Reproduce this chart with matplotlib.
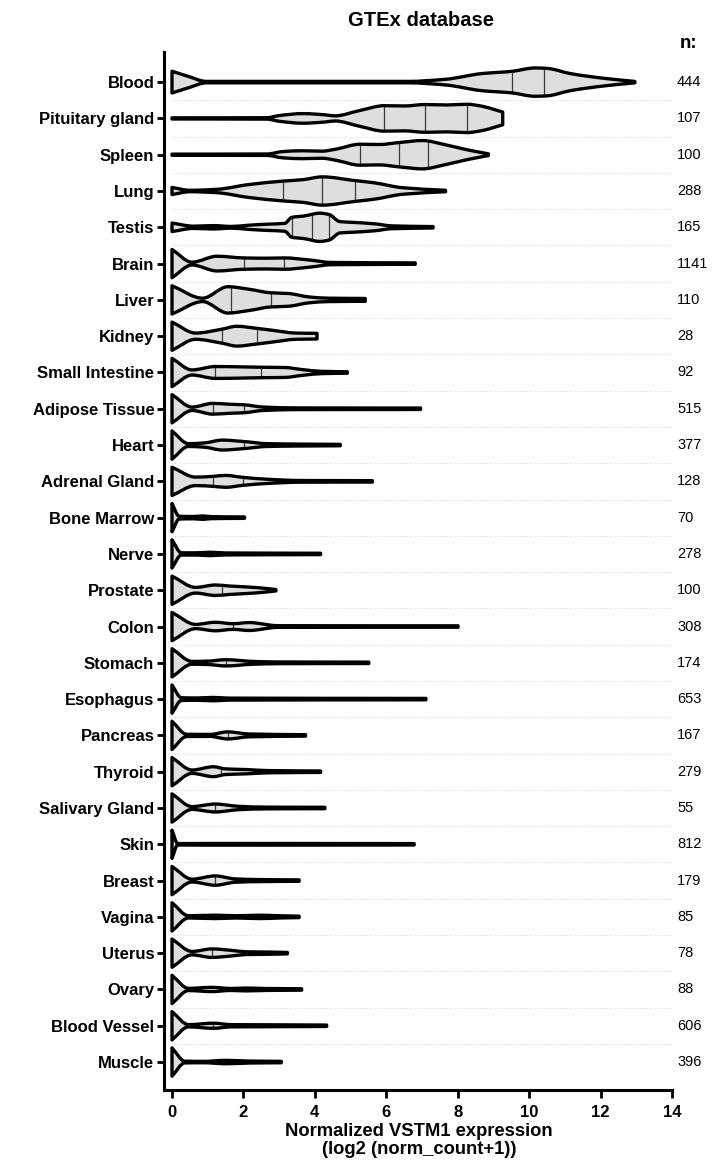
import numpy as np
import matplotlib
matplotlib.use("Agg")
import matplotlib.pyplot as plt
from matplotlib.path import Path
from matplotlib.patches import PathPatch
from matplotlib.transforms import blended_transform_factory

plt.rcParams['font.family'] = ['Liberation Sans', 'DejaVu Sans']

# ---------------- data ----------------
tissues = ["Blood", "Pituitary gland", "Spleen", "Lung", "Testis", "Brain", "Liver",
           "Kidney", "Small Intestine", "Adipose Tissue", "Heart", "Adrenal Gland",
           "Bone Marrow", "Nerve", "Prostate", "Colon", "Stomach", "Esophagus",
           "Pancreas", "Thyroid", "Salivary Gland", "Skin", "Breast", "Vagina",
           "Uterus", "Ovary", "Blood Vessel", "Muscle"]
n_counts = [444, 107, 100, 288, 165, 1141, 110, 28, 92, 515, 377, 128, 70, 278, 100,
            308, 174, 653, 167, 279, 55, 812, 179, 85, 78, 88, 606, 396]

# violin density profiles (expression value, relative density) and quartile lines
blood_x = [0, 0.45, 0.96, 6.6, 7.66, 8.66, 9.51, 10.16, 10.5, 11.16, 12.16, 12.96]
blood_w = [0.77, 0.41, 0.05, 0.05, 0.2, 0.6, 0.76, 1.0, 0.97, 0.6, 0.25, 0.05]
blood_q = [9.51, 10.41]

pituitary_x = [0, 2.66, 3.0, 3.66, 4.3, 4.56, 5.26, 5.94, 6.5, 7.09, 7.7, 8.26, 8.7, 9.06, 9.26]
pituitary_w = [0.04, 0.05, 0.2, 0.34, 0.25, 0.18, 0.56, 0.9, 0.88, 0.98, 0.95, 1.0, 0.85, 0.6, 0.45]
pituitary_q = [5.94, 7.09, 8.26]

spleen_x = [0, 2.66, 3.1, 3.66, 4.2, 4.6, 5.26, 5.8, 6.36, 7.01, 7.66, 8.26, 8.86]
spleen_w = [0.04, 0.05, 0.22, 0.28, 0.25, 0.4, 0.74, 0.72, 0.86, 1.0, 0.7, 0.35, 0.06]
spleen_q = [5.26, 6.36, 7.18]

lung_x = [0, 0.5, 1.26, 2.16, 3.11, 3.66, 4.21, 5.11, 5.66, 6.46, 7.66]
lung_w = [0.25, 0.05, 0.12, 0.46, 0.7, 0.8, 1.0, 0.74, 0.58, 0.23, 0.05]
lung_q = [3.11, 4.21, 5.11]

testis_x = [0, 0.6, 1.16, 1.66, 2.16, 2.66, 3.16, 3.35, 3.7, 4.14, 4.4, 4.7, 5.06, 5.66, 6.16, 7.31]
testis_w = [0.3, 0.08, 0.12, 0.06, 0.15, 0.22, 0.28, 0.7, 0.8, 1.0, 0.9, 0.4, 0.35, 0.25, 0.1, 0.05]
testis_q = [3.35, 3.91, 4.40]

brain_x = [0, 0.56, 1.26, 2.01, 2.66, 3.14, 3.86, 4.46, 6.81]
brain_w = [1.0, 0.1, 0.52, 0.4, 0.38, 0.4, 0.25, 0.08, 0.05]
brain_q = [2.01, 3.14]

liver_x = [0, 0.86, 1.56, 2.16, 2.77, 3.26, 3.86, 4.4, 5.41]
liver_w = [1.0, 0.12, 0.93, 0.75, 0.5, 0.45, 0.2, 0.12, 0.1]
liver_q = [1.64, 2.77]

kidney_x = [0, 0.66, 1.41, 1.81, 2.38, 2.86, 3.46, 4.06]
kidney_w = [1.0, 0.22, 0.5, 0.7, 0.55, 0.4, 0.22, 0.2]
kidney_q = [1.41, 2.38]

small_int_x = [0, 0.56, 1.21, 1.86, 2.48, 3.16, 3.66, 4.2, 4.91]
small_int_w = [1.0, 0.18, 0.42, 0.4, 0.37, 0.35, 0.2, 0.08, 0.05]
small_int_q = [1.21, 2.48]

adipose_x = [0, 0.56, 1.14, 1.6, 2.01, 2.56, 3.5, 6.96]
adipose_w = [1.0, 0.12, 0.38, 0.32, 0.28, 0.12, 0.06, 0.05]
adipose_q = [1.14, 2.01]

heart_x = [0, 0.46, 0.9, 1.41, 2.01, 2.66, 3.5, 4.71]
heart_w = [1.0, 0.1, 0.15, 0.35, 0.25, 0.1, 0.07, 0.05]
heart_q = [2.01]

adrenal_x = [0, 0.66, 1.14, 1.5, 1.99, 2.66, 3.6, 5.61]
adrenal_w = [1.0, 0.3, 0.35, 0.42, 0.28, 0.15, 0.06, 0.05]
adrenal_q = [1.14, 1.99]

marrow_x = [0, 0.2, 0.6, 0.86, 1.1, 2.03]
marrow_w = [1.0, 0.1, 0.08, 0.12, 0.07, 0.05]
marrow_q = []

nerve_x = [0, 0.26, 0.7, 1.06, 1.5, 4.16]
nerve_w = [1.0, 0.08, 0.08, 0.12, 0.07, 0.05]
nerve_q = []

prostate_x = [0, 0.66, 1.21, 1.6, 1.96, 2.4, 2.91]
prostate_w = [1.0, 0.2, 0.37, 0.3, 0.25, 0.18, 0.05]
prostate_q = [1.41]

colon_x = [0, 0.66, 1.21, 1.71, 2.16, 2.96, 8.01]
colon_w = [1.0, 0.15, 0.3, 0.2, 0.28, 0.06, 0.05]
colon_q = [1.71]

stomach_x = [0, 0.56, 1.0, 1.51, 2.26, 3.0, 5.51]
stomach_w = [1.0, 0.1, 0.12, 0.22, 0.1, 0.06, 0.05]
stomach_q = [1.51]

esophagus_x = [0, 0.26, 0.7, 1.16, 1.6, 7.11]
esophagus_w = [1.0, 0.1, 0.08, 0.12, 0.07, 0.05]
esophagus_q = []

pancreas_x = [0, 0.41, 1.06, 1.56, 2.16, 3.74]
pancreas_w = [1.0, 0.08, 0.07, 0.25, 0.1, 0.05]
pancreas_q = [1.56]

thyroid_x = [0, 0.56, 1.16, 1.5, 2.1, 2.66, 4.16]
thyroid_w = [1.0, 0.12, 0.35, 0.2, 0.15, 0.08, 0.05]
thyroid_q = [1.38]

salivary_x = [0, 0.56, 1.21, 1.86, 2.66, 4.28]
salivary_w = [1.0, 0.1, 0.28, 0.12, 0.06, 0.05]
salivary_q = [1.21]

skin_x = [0, 0.16, 1.16, 6.78]
skin_w = [1.0, 0.05, 0.06, 0.05]
skin_q = []

breast_x = [0, 0.56, 1.21, 1.76, 2.5, 3.56]
breast_w = [1.0, 0.1, 0.33, 0.12, 0.07, 0.05]
breast_q = [1.21]

vagina_x = [0, 0.46, 1.21, 1.8, 2.46, 3.0, 3.56]
vagina_w = [1.0, 0.08, 0.12, 0.08, 0.12, 0.08, 0.05]
vagina_q = []

uterus_x = [0, 0.56, 1.11, 1.66, 2.06, 2.66, 3.23]
uterus_w = [1.0, 0.12, 0.3, 0.2, 0.1, 0.08, 0.05]
uterus_q = [1.11]

ovary_x = [0, 0.46, 1.11, 1.66, 2.06, 2.6, 3.63]
ovary_w = [1.0, 0.08, 0.15, 0.07, 0.1, 0.07, 0.05]
ovary_q = []

vessel_x = [0, 0.46, 1.16, 1.66, 2.5, 4.33]
vessel_w = [1.0, 0.08, 0.18, 0.08, 0.07, 0.05]
vessel_q = [1.16]

muscle_x = [0, 0.36, 0.9, 1.51, 2.16, 3.06]
muscle_w = [1.0, 0.06, 0.05, 0.12, 0.07, 0.05]
muscle_q = []

xticks = [0, 2, 4, 6, 8, 10, 12, 14]

profiles = [
    (blood_x, blood_w, blood_q), (pituitary_x, pituitary_w, pituitary_q),
    (spleen_x, spleen_w, spleen_q), (lung_x, lung_w, lung_q),
    (testis_x, testis_w, testis_q), (brain_x, brain_w, brain_q),
    (liver_x, liver_w, liver_q), (kidney_x, kidney_w, kidney_q),
    (small_int_x, small_int_w, small_int_q), (adipose_x, adipose_w, adipose_q),
    (heart_x, heart_w, heart_q), (adrenal_x, adrenal_w, adrenal_q),
    (marrow_x, marrow_w, marrow_q), (nerve_x, nerve_w, nerve_q),
    (prostate_x, prostate_w, prostate_q), (colon_x, colon_w, colon_q),
    (stomach_x, stomach_w, stomach_q), (esophagus_x, esophagus_w, esophagus_q),
    (pancreas_x, pancreas_w, pancreas_q), (thyroid_x, thyroid_w, thyroid_q),
    (salivary_x, salivary_w, salivary_q), (skin_x, skin_w, skin_q),
    (breast_x, breast_w, breast_q), (vagina_x, vagina_w, vagina_q),
    (uterus_x, uterus_w, uterus_q), (ovary_x, ovary_w, ovary_q),
    (vessel_x, vessel_w, vessel_q), (muscle_x, muscle_w, muscle_q),
]


# ---------------- helpers: smooth (monotone Hermite) outline as Bezier path ----------------
def pchip_slopes(x, y):
    h = np.diff(x)
    d = np.diff(y) / h
    n = len(x)
    m = np.zeros(n)
    if n == 2:
        m[:] = d[0]
        return m
    for k in range(1, n - 1):
        if d[k - 1] * d[k] <= 0:
            m[k] = 0.0
        else:
            w1 = 2 * h[k] + h[k - 1]
            w2 = h[k] + 2 * h[k - 1]
            m[k] = (w1 + w2) / (w1 / d[k - 1] + w2 / d[k])
    m[0] = d[0]
    m[-1] = d[-1]
    return m


def hermite_eval(x, y, m, q):
    i = int(np.clip(np.searchsorted(x, q) - 1, 0, len(x) - 2))
    h = x[i + 1] - x[i]
    t = (q - x[i]) / h
    h00 = 2 * t**3 - 3 * t**2 + 1
    h10 = t**3 - 2 * t**2 + t
    h01 = -2 * t**3 + 3 * t**2
    h11 = t**3 - t**2
    return h00 * y[i] + h10 * h * m[i] + h01 * y[i + 1] + h11 * h * m[i + 1]


def edge_segments(x, y, m, reverse=False):
    verts = []
    idx = range(len(x) - 1)
    if reverse:
        idx = reversed(list(idx))
    for i in idx:
        h = x[i + 1] - x[i]
        c1 = (x[i] + h / 3, y[i] + m[i] * h / 3)
        c2 = (x[i + 1] - h / 3, y[i + 1] - m[i + 1] * h / 3)
        if not reverse:
            verts += [c1, c2, (x[i + 1], y[i + 1])]
        else:
            verts += [c2, c1, (x[i], y[i])]
    return verts


def violin_path(x, hw, pos):
    m = pchip_slopes(x, hw)
    upper = pos - hw
    lower = pos + hw
    verts = [(x[0], upper[0])]
    codes = [Path.MOVETO]
    seg = edge_segments(x, upper, -m)
    verts += seg
    codes += [Path.CURVE4] * len(seg)
    verts.append((x[-1], lower[-1]))
    codes.append(Path.LINETO)
    seg = edge_segments(x, lower, m, reverse=True)
    verts += seg
    codes += [Path.CURVE4] * len(seg)
    verts.append((x[0], upper[0]))
    codes.append(Path.CLOSEPOLY)
    return Path(verts, codes), m


# ---------------- figure ----------------
W, H = 718, 1172
fig = plt.figure(figsize=(W / 100, H / 100), dpi=100)
ax_left, ax_right, ax_top, ax_bottom = 164, 672, 52, 1090
ax = fig.add_axes([ax_left / W, 1 - ax_bottom / H, (ax_right - ax_left) / W, (ax_bottom - ax_top) / H])

HALF = 0.39
FILL = '#dedede'

positions = np.arange(len(tissues))

# dotted separators between rows
for p in positions[:-1]:
    ax.plot([0, 14], [p + 0.5, p + 0.5], color='#cccccc', lw=0.6, ls=(0, (1, 2)), zorder=0)

for pos, (px, pw, pq) in zip(positions, profiles):
    xs = np.asarray(px, float)
    hw = np.asarray(pw, float) * HALF
    path, m = violin_path(xs, hw, pos)
    ax.add_patch(PathPatch(path, facecolor=FILL, edgecolor='none', zorder=2))
    for qv in pq:
        h = hermite_eval(xs, hw, m, qv)
        ax.plot([qv, qv], [pos - h, pos + h], color='#3a3a3a', lw=0.9, zorder=3)
    ax.add_patch(PathPatch(path, facecolor='none', edgecolor='black', lw=2.4,
                           joinstyle='round', capstyle='round', zorder=4))

ax.set_xlim(-0.224, 14)
ax.set_ylim(len(tissues) - 1 + 0.77, -0.83)

ax.set_yticks(positions)
ax.set_yticklabels(tissues, fontsize=12, fontweight='bold')
ax.set_xticks(xticks)
ax.set_xticklabels([str(t) for t in xticks], fontsize=12, fontweight='bold')
ax.tick_params(axis='y', length=5, width=2, pad=2)
ax.tick_params(axis='x', length=6, width=2, pad=5)

for s in ['top', 'right']:
    ax.spines[s].set_visible(False)
for s in ['left', 'bottom']:
    ax.spines[s].set_linewidth(2.2)

# n counts
trans = blended_transform_factory(ax.transAxes, ax.transData)
for pos, n in zip(positions, n_counts):
    ax.text((677 - ax_left) / (ax_right - ax_left), pos, str(n), transform=trans,
            ha='left', va='center', fontsize=10.5, clip_on=False)
fig.text(689 / W, 1 - 44 / H, "n:", ha='center', va='center', fontsize=13.5, fontweight='bold')

fig.text(421 / W, 1 - 20 / H, "GTEx database", ha='center', va='center', fontsize=14.5, fontweight='bold')
fig.text(419 / W, 1 - 1132 / H, "Normalized VSTM1 expression", ha='center', va='center',
         fontsize=13.2, fontweight='bold')
fig.text(419 / W, 1 - 1150 / H, "(log2 (norm_count+1))", ha='center', va='center',
         fontsize=13.2, fontweight='bold')

fig.savefig("out.png", dpi=100)
